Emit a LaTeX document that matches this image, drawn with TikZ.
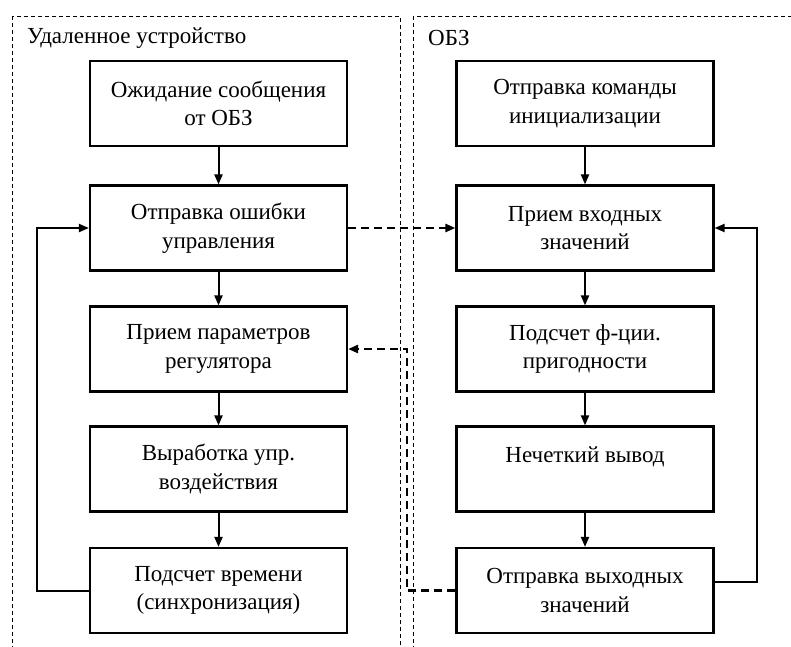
\documentclass[tikz,border=0pt]{standalone}
\usepackage{fontspec}
\setmainfont{Liberation Serif}
\usetikzlibrary{arrows.meta,calc}
\begin{document}
\begin{tikzpicture}[x=1pt,y=-1pt,
  box/.style={draw,line width=2.2pt,minimum width=257pt,minimum height=85pt,align=center,
    font=\fontsize{23}{28.5}\selectfont,inner sep=0pt},
  conn/.style={line width=2pt,-{Triangle[length=10pt,width=8pt]}},
  dconn/.style={line width=2.4pt,dash pattern=on 8pt off 5pt,-{Triangle[length=10pt,width=8pt]}},
  frame/.style={line width=1pt,dash pattern=on 4pt off 3pt},
  head/.style={anchor=west,font=\fontsize{23}{28.5}\selectfont,inner sep=0pt}]
\useasboundingbox (0,0) rectangle (791,646);
\clip (0,0) rectangle (791,646);
\fill[white] (0,0) rectangle (791,646);
% containers
\draw[frame] (12,16) rectangle (400,700);
\draw[frame] (413,16) rectangle (860,700);
\node[head] (hl) at (27,38) {Удаленное устройство};
\node[head] (hr) at (428,38) {ОБЗ};
% left column
\node[box] (L1) at (218.5,103.5) {Ожидание сообщения\\от ОБЗ};
\node[box] (L2) at (218.5,228) {Отправка ошибки\\управления};
\node[box] (L3) at (218.5,349) {Прием параметров\\регулятора};
\node[box] (L4) at (218.5,469) {Выработка упр.\\воздействия};
\node[box] (L5) at (218.5,590.5) {Подсчет времени\\(синхронизация)};
% right column
\node[box] (R1) at (585,103.5) {Отправка команды\\инициализации};
\node[box] (R2) at (585,228) {Прием входных\\значений};
\node[box] (R3) at (585,349) {Подсчет ф-ции.\\пригодности};
\node[box] (R4) at (585,469) {Нечеткий вывод\\\mbox{}};
\node[box] (R5) at (585,590.5) {Отправка выходных\\значений};
% vertical arrows
\foreach \a/\b in {L1/L2,L2/L3,L3/L4,L4/L5,R1/R2,R2/R3,R3/R4,R4/R5}
  \draw[conn] (\a.south) -- (\b.north);
% feedback loops
\draw[conn] (L5.west) -- ++(-52,0) |- (L2.west);
\draw[conn] ([yshift=8.5pt]R5.east) -- ++(42,0) |- (R2.east);
% dashed exchanges
\draw[dconn] (L2.east) -- (R2.west);
\coordinate (v) at (407,349);
\draw[dconn] (R5.west) -| (v) -- (L3.east);
\end{tikzpicture}
\end{document}
